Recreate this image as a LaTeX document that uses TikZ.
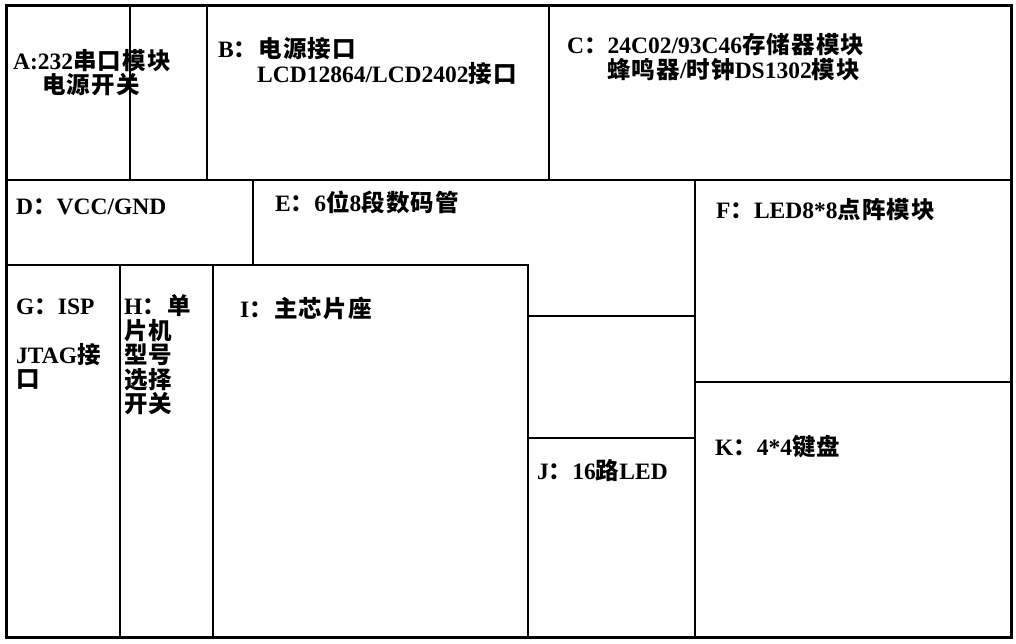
\documentclass[tikz,border=0pt]{standalone}
\usepackage{fontspec}
\setmainfont{Liberation Serif}
\newfontfamily\cjkfont{Noto Sans CJK SC}[LetterSpace=5]
\newcommand\zh[1]{{\cjkfont #1}}
\begin{document}
\begin{tikzpicture}[x=1pt,y=-1pt,
  inner/.style={line width=2pt, line cap=rect},
  outer/.style={line width=3pt},
  lbl/.style={anchor=west, inner sep=0pt, align=left, font=\bfseries\fontsize{23.5}{24.5}\selectfont}]
\useasboundingbox (0,0) rectangle (1016,644);
\fill[white] (0,0) rectangle (1016,644);
% partition lines
\draw[inner] (6,180) -- (1011,180);
\draw[inner] (130,6) -- (130,180);
\draw[inner] (207,6) -- (207,180);
\draw[inner] (549,6) -- (549,180);
\draw[inner] (253,180) -- (253,265);
\draw[inner] (6,265) -- (528,265);
\draw[inner] (528,265) -- (528,637);
\draw[inner] (120,265) -- (120,637);
\draw[inner] (213,265) -- (213,637);
\draw[inner] (695,180) -- (695,637);
\draw[inner] (528,316) -- (695,316);
\draw[inner] (528,438) -- (695,438);
\draw[inner] (695,382) -- (1011,382);
\draw[outer] (6,6) rectangle (1011,637);
% labels
\node[lbl] (A) at (13,72.5) {A:232\zh{串口模块}\\\hspace{29pt}\zh{电源开关}};
\node[lbl] (B) at (218,61) {B\zh{：电源接口}\\\hspace{39pt}LCD12864/LCD2402\zh{接口}};
\node[lbl] (C) at (567,57) {C\zh{：}24C02/93C46\zh{存储器模块}\\\hspace{40pt}\zh{蜂鸣器}/\zh{时钟}DS1302\zh{模块}};
\node[lbl] (D) at (16,207) {D\zh{：}VCC/GND};
\node[lbl] (E) at (275,202) {E\zh{：}6\zh{位}8\zh{段数码管}};
\node[lbl] (F) at (716,210) {F\zh{：}LED8*8\zh{点阵模块}};
\node[lbl] (G) at (16,344) {G\zh{：}ISP\\[24.5pt]JTAG\zh{接}\\\zh{口}};
\node[lbl] (H) at (124,355) {H\zh{：单}\\\zh{片机}\\\zh{型号}\\\zh{选择}\\\zh{开关}};
\node[lbl] (I) at (240,308) {I\zh{：主芯片座}};
\node[lbl] (J) at (537,471) {J\zh{：}16\zh{路}LED};
\node[lbl] (K) at (715,447) {K\zh{：}4*4\zh{键盘}};
\end{tikzpicture}
\end{document}
